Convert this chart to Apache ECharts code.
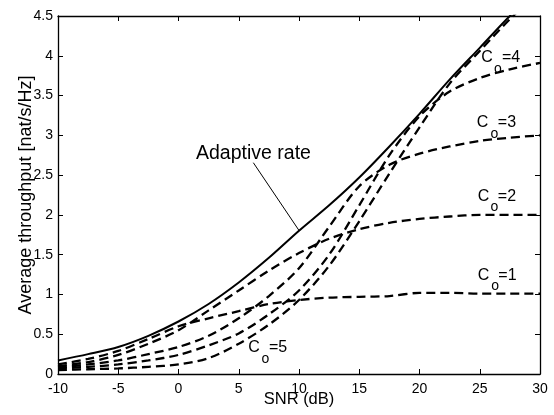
<!DOCTYPE html>
<html><head><meta charset="utf-8">
<script src="https://cdn.jsdelivr.net/npm/echarts@6/dist/echarts.min.js"></script>
<style>html,body{margin:0;padding:0;background:#fff}#c{width:554px;height:415px}</style>
</head><body><div id="c"></div>
<script>
// SNR grid (dB)
const snr = [-10,-7.5,-5,-2.5,0,2.5,5,7.5,10,12.5,15,17.5,20,22.5,25,27.5,30];
// Adaptive rate
const adaptive = [0.17,0.25,0.34,0.48,0.66,0.88,1.15,1.46,1.80,2.12,2.47,2.86,3.27,3.70,4.10,4.50,4.85];
// Fixed rate curves
const co1 = [0.12,0.19,0.29,0.44,0.60,0.70,0.79,0.88,0.93,0.96,0.97,0.98,1.02,1.02,1.01,1.01,1.01];
const co2 = [0.10,0.15,0.24,0.38,0.55,0.80,1.05,1.30,1.52,1.70,1.82,1.90,1.95,1.98,2.00,2.00,2.00];
const co3 = [0.08,0.12,0.17,0.25,0.34,0.48,0.70,0.98,1.33,1.85,2.36,2.63,2.77,2.86,2.93,2.97,3.00];
const co4 = [0.07,0.09,0.12,0.17,0.24,0.36,0.51,0.75,1.05,1.50,2.12,2.75,3.24,3.55,3.72,3.83,3.91];
const co5 = [0.05,0.06,0.07,0.09,0.12,0.20,0.38,0.62,0.93,1.36,1.92,2.52,3.10,3.65,4.06,4.46,4.82];
const xTicks = {min:-10,max:30,interval:5};
const yTicks = {min:0,max:4.5,interval:0.5};

const F = 'Liberation Sans, Arial, Helvetica, sans-serif';
const pair = (ys) => snr.map((x,i)=>[x,ys[i]]);
const dash = (name, ys) => ({type:'line',name,data:pair(ys),showSymbol:false,smooth:0.3,
  lineStyle:{color:'#000',width:2.3,type:[9,5]},z:3});
function txt(coord, text, size){
  return {coord, symbolSize:0, label:{show:true,position:'inside',formatter:text,color:'#000',fontSize:size,fontFamily:F}};
}
const labels = [
  // [C position, o position, '=k' position, k]
  [[25.6,3.98],[26.5,3.83],[27.6,3.98],'=4'],
  [[25.23,3.155],[26.22,3.017],[27.26,3.155],'=3'],
  [[25.31,2.231],[26.22,2.093],[27.26,2.231],'=2'],
  [[25.31,1.238],[26.27,1.106],[27.3,1.238],'=1'],
  [[6.27,0.327],[7.22,0.189],[8.26,0.327],'=5']
];
const mp = [];
labels.forEach(l=>{mp.push(txt(l[0],'C',16));mp.push(txt(l[1],'o',14));mp.push(txt(l[2],l[3],16));});
mp.push(txt([6.22,2.765],'Adaptive rate',19.5));

const axCommon = {axisLine:{show:true,onZero:false,lineStyle:{color:'#000',width:1.3}},
  axisTick:{show:true,inside:true,length:5,lineStyle:{color:'#000',width:1}},
  splitLine:{show:false}};
const chart = echarts.init(document.getElementById('c'));
chart.setOption({
  animation:false,
  backgroundColor:'#fff',
  grid:{left:58,right:14,top:16,bottom:41,containLabel:false,outerBoundsMode:'none'},
  xAxis:[
    Object.assign({type:'value',position:'bottom',...xTicks,name:'SNR (dB)',nameLocation:'middle',nameGap:17,nameMoveOverlap:false,
      nameTextStyle:{fontSize:16.5,fontFamily:F,color:'#000'},
      axisLabel:{color:'#000',fontSize:14,fontFamily:F,margin:8}},axCommon),
    Object.assign({type:'value',position:'top',...xTicks,axisLabel:{show:false}},axCommon)
  ],
  yAxis:[
    Object.assign({type:'value',position:'left',...yTicks,name:'Average throughput [nat/s/Hz]',nameLocation:'middle',nameGap:23,nameMoveOverlap:false,
      nameTextStyle:{fontSize:18,fontFamily:F,color:'#000'},
      axisLabel:{color:'#000',fontSize:14,fontFamily:F,margin:5}},axCommon),
    Object.assign({type:'value',position:'right',...yTicks,axisLabel:{show:false}},axCommon)
  ],
  series:[
    {type:'line',name:'Adaptive rate',data:pair(adaptive),showSymbol:false,smooth:0.3,
      lineStyle:{color:'#000',width:2},z:4,
      markPoint:{data:mp,silent:true},
      markLine:{silent:true,symbol:['none','none'],lineStyle:{color:'#000',width:1,type:'solid'},label:{show:false},
        data:[[{coord:[6.21,2.656]},{coord:[10.02,1.80]}]]}},
    dash('C1',co1),dash('C2',co2),dash('C3',co3),dash('C4',co4),dash('C5',co5)
  ]
});
</script></body></html>
